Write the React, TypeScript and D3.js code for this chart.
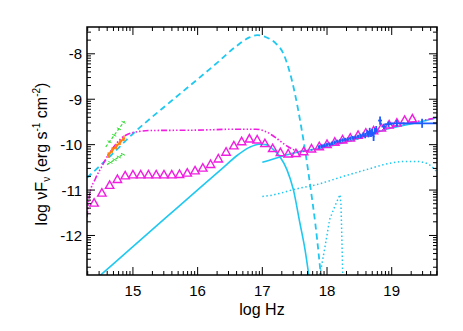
import React from "react";
import * as d3 from "d3";

const W = 463, H = 331;
const X_DOMAIN: [number, number] = [14.29, 19.7];
const Y_DOMAIN: [number, number] = [-12.87, -7.41];
const X_MAJOR = [15, 16, 17, 18, 19];
const Y_MAJOR = [-12, -11, -10, -9, -8];

// cyan dashed (synchrotron-like bump)
const dashX = [14.29, 14.65, 15.0, 15.5, 16.0, 16.3, 16.6, 16.8, 16.92, 17.05, 17.2, 17.32, 17.5, 17.6, 17.68, 17.75, 17.82, 17.92];
const dashY = [-10.73, -10.25, -9.76, -9.15, -8.56, -8.2, -7.83, -7.64, -7.59, -7.63, -7.76, -7.98, -8.85, -9.6, -10.3, -11.0, -11.75, -13.1];

// cyan solid, low-energy component
const sol1X = [14.45, 14.5, 15.0, 15.5, 16.0, 16.4, 16.6, 16.8, 16.95, 17.05, 17.15, 17.27, 17.38, 17.48, 17.58, 17.66, 17.74];
const sol1Y = [-12.93, -12.87, -12.245, -11.62, -10.995, -10.5, -10.25, -10.06, -9.99, -10.0, -10.08, -10.26, -10.55, -10.99, -11.72, -12.31, -13.1];

// cyan solid, X-ray component
const sol2X = [17.0, 17.27, 17.5, 18.0, 18.5, 19.0, 19.5, 19.7];
const sol2Y = [-10.39, -10.27, -10.18, -10.05, -9.86, -9.63, -9.48, -9.4];

// cyan dotted, broad component
const dot1X = [17.0, 17.12, 17.3, 17.48, 17.84, 18.25, 18.61, 18.97, 19.2, 19.38, 19.54, 19.7];
const dot1Y = [-11.14, -11.12, -11.06, -10.99, -10.88, -10.7, -10.55, -10.41, -10.37, -10.37, -10.41, -10.6];

// cyan dotted, narrow spike
const dot2X = [17.88, 17.97, 18.04, 18.12, 18.2, 18.215, 18.225, 18.235, 18.245];
const dot2Y = [-12.95, -12.24, -11.65, -11.36, -11.1, -11.3, -11.8, -12.4, -13.0];

// magenta dash-dot total model
const magX = [14.29, 14.33, 14.42, 14.52, 14.62, 14.72, 14.82, 14.92, 15.05, 15.25, 16.0, 16.6, 16.9, 17.05, 17.2, 17.35, 17.5, 17.6, 17.75, 18.0, 18.5, 19.0, 19.5, 19.7];
const magY = [-11.6, -11.1, -10.75, -10.48, -10.22, -10.02, -9.86, -9.77, -9.72, -9.69, -9.68, -9.66, -9.66, -9.71, -9.84, -10.0, -10.12, -10.15, -10.12, -10.03, -9.86, -9.61, -9.46, -9.41];

// magenta triangles
const triX = [14.40, 14.52, 14.64, 14.76, 14.88, 15.00, 15.12, 15.24, 15.36, 15.48, 15.60, 15.72, 15.84, 15.96, 16.08, 16.20, 16.32, 16.44, 16.56, 16.68, 16.80, 16.92, 17.04, 17.16, 17.28, 17.40, 17.52, 17.64, 17.76, 17.88, 18.00, 18.12, 18.24, 18.36, 18.48, 18.60, 18.72, 18.84, 18.96, 19.08, 19.20, 19.32];
const triY = [-11.28, -11.06, -10.89, -10.76, -10.68, -10.66, -10.66, -10.66, -10.66, -10.66, -10.66, -10.65, -10.62, -10.57, -10.51, -10.43, -10.31, -10.16, -10.02, -9.93, -9.87, -9.89, -9.97, -10.08, -10.17, -10.20, -10.19, -10.15, -10.09, -10.04, -9.99, -9.94, -9.89, -9.85, -9.79, -9.74, -9.69, -9.63, -9.56, -9.52, -9.46, -9.43];

// blue X-ray data: x, y, xerr, yerr
const xrX = [17.88, 17.92, 17.96, 18.0, 18.04, 18.08, 18.12, 18.16, 18.2, 18.24, 18.28, 18.32, 18.36, 18.4, 18.44, 18.48, 18.52, 18.56, 18.59, 18.62, 18.64, 18.66, 18.68, 18.7, 18.72, 18.74, 18.76, 18.82, 18.88, 18.95, 19.08, 19.47];
const xrY = [-10.05, -10.03, -10.02, -10.0, -9.99, -9.97, -9.95, -9.93, -9.92, -9.9, -9.89, -9.88, -9.86, -9.85, -9.84, -9.82, -9.81, -9.78, -9.8, -9.74, -9.77, -9.7, -9.76, -9.73, -9.82, -9.7, -9.66, -9.47, -9.6, -9.55, -9.53, -9.53];
const xrXe = [0.02, 0.02, 0.02, 0.02, 0.02, 0.02, 0.02, 0.02, 0.02, 0.02, 0.02, 0.02, 0.02, 0.02, 0.02, 0.02, 0.02, 0.02, 0.015, 0.015, 0.015, 0.015, 0.015, 0.015, 0.015, 0.015, 0.02, 0.03, 0.04, 0.06, 0.12, 0.3];
const xrYe = [0.04, 0.04, 0.04, 0.04, 0.04, 0.04, 0.04, 0.04, 0.04, 0.04, 0.04, 0.04, 0.04, 0.04, 0.04, 0.04, 0.05, 0.05, 0.06, 0.06, 0.07, 0.07, 0.07, 0.08, 0.1, 0.07, 0.07, 0.09, 0.06, 0.06, 0.07, 0.1];

// orange optical data
const optX = [14.62, 14.68, 14.74, 14.8, 14.86];
const optY = [-10.23, -10.12, -10.04, -9.95, -9.86];

// green bow-tie
const bowUpX = [14.58, 14.87];
const bowUpY = [-10.05, -9.48];
const bowLoX = [14.6, 14.86];
const bowLoY = [-10.44, -10.2];

const CYAN = "#1fc8f0";
const MAG = "#f01ee0";
const BLUE = "#1f5cff";
const ORANGE = "#ff7f10";
const GREEN = "#33dd33";

export default function App() {
  const L = 87, R = 437, T = 27, B = 275;
  const x = d3.scaleLinear().domain(X_DOMAIN).range([L, R]);
  const y = d3.scaleLinear().domain(Y_DOMAIN).range([B, T]);

  const mk = (xs: number[], ys: number[], curve = d3.curveMonotoneX) =>
    d3.line<number>().x((_, i) => x(xs[i])).y((_, i) => y(ys[i])).curve(curve)(xs.map((_, i) => i)) || "";

  const minorX: number[] = [];
  for (let n = 14; n <= 19; n++) for (let k = 2; k <= 9; k++) { const v = n + Math.log10(k); if (v > X_DOMAIN[0] && v < X_DOMAIN[1]) minorX.push(v); }
  const minorY: number[] = [];
  for (let n = -13; n <= -8; n++) for (let k = 2; k <= 9; k++) { const v = n + Math.log10(k); if (v > Y_DOMAIN[0] && v < Y_DOMAIN[1]) minorY.push(v); }

  const font = "'Liberation Sans', Arial, Helvetica, sans-serif";
  const tri = (cx: number, cy: number) => `M${cx - 4.2},${cy + 3.3}L${cx + 4.2},${cy + 3.3}L${cx},${cy - 4.2}Z`;

  return (
    <svg width={W} height={H} style={{ position: "absolute", left: 0, top: 0, background: "#fff" }} fontFamily={font}>
      <defs>
        <clipPath id="plot"><rect x={L} y={T} width={R - L} height={B - T} /></clipPath>
      </defs>
      <g clipPath="url(#plot)" fill="none">
        <path d={mk(dashX, dashY)} stroke={CYAN} strokeWidth={1.8} strokeDasharray="6,4" />
        <path d={mk(sol1X, sol1Y)} stroke={CYAN} strokeWidth={1.6} />
        <path d={mk(sol2X, sol2Y)} stroke={CYAN} strokeWidth={1.6} />
        <path d={mk(dot1X, dot1Y)} stroke={CYAN} strokeWidth={1.5} strokeDasharray="1.5,2.5" />
        <path d={mk(dot2X, dot2Y, d3.curveLinear)} stroke={CYAN} strokeWidth={1.5} strokeDasharray="1.5,2.5" />
        <path d={mk(magX, magY)} stroke={MAG} strokeWidth={1.6} strokeDasharray="6,2,1.5,2,1.5,2,1.5,2" />
        {/* green bowtie */}
        <path d={mk(bowUpX, bowUpY, d3.curveLinear)} stroke={GREEN} strokeWidth={1.2} strokeDasharray="3,2" />
        <path d={mk(bowLoX, bowLoY, d3.curveLinear)} stroke={GREEN} strokeWidth={1.2} strokeDasharray="3,2" />
        {[0.2, 0.45, 0.7, 0.95].map((f, i) => {
          const ux = x(bowUpX[0]) + f * (x(bowUpX[1]) - x(bowUpX[0]));
          const uy = y(bowUpY[0]) + f * (y(bowUpY[1]) - y(bowUpY[0]));
          const lx = x(bowLoX[0]) + f * (x(bowLoX[1]) - x(bowLoX[0]));
          const ly = y(bowLoY[0]) + f * (y(bowLoY[1]) - y(bowLoY[0]));
          return (
            <g key={"bt" + i} stroke={GREEN} strokeWidth={1}>
              <line x1={ux - 2} y1={uy - 1} x2={ux + 2} y2={uy + 1} />
              <line x1={lx - 2} y1={ly - 1} x2={lx + 2} y2={ly + 1} />
            </g>
          );
        })}
        {/* orange optical */}
        <path d={mk(optX, optY, d3.curveLinear)} stroke={ORANGE} strokeWidth={2} />
        {optX.map((v, i) => (
          <g key={"o" + i} stroke={ORANGE} strokeWidth={1.6}>
            <line x1={x(v)} y1={y(optY[i] - 0.06)} x2={x(v)} y2={y(optY[i] + 0.06)} />
            <line x1={x(v - 0.02)} y1={y(optY[i])} x2={x(v + 0.02)} y2={y(optY[i])} />
          </g>
        ))}
        {/* triangles */}
        {triX.map((v, i) => (
          <path key={"t" + i} d={tri(x(v), y(triY[i]))} stroke={MAG} strokeWidth={1.4} fill="none" />
        ))}
        {/* X-ray data */}
        {xrX.map((v, i) => (
          <g key={"x" + i} stroke={BLUE} strokeWidth={1.8}>
            <line x1={x(v - xrXe[i])} y1={y(xrY[i])} x2={x(v + xrXe[i])} y2={y(xrY[i])} />
            <line x1={x(v)} y1={y(xrY[i] - xrYe[i])} x2={x(v)} y2={y(xrY[i] + xrYe[i])} />
          </g>
        ))}
      </g>
      {/* frame */}
      <rect x={L} y={T} width={R - L} height={B - T} fill="none" stroke="#000" strokeWidth={1.5} />
      <g stroke="#000" strokeWidth={1}>
        {X_MAJOR.map(v => (
          <g key={"xm" + v}>
            <line x1={x(v)} x2={x(v)} y1={B} y2={B - 8} />
            <line x1={x(v)} x2={x(v)} y1={T} y2={T + 8} />
          </g>
        ))}
        {minorX.map((v, i) => (
          <g key={"xn" + i}>
            <line x1={x(v)} x2={x(v)} y1={B} y2={B - 4} />
            <line x1={x(v)} x2={x(v)} y1={T} y2={T + 4} />
          </g>
        ))}
        {Y_MAJOR.map(v => (
          <g key={"ym" + v}>
            <line x1={L} x2={L + 8} y1={y(v)} y2={y(v)} />
            <line x1={R} x2={R - 8} y1={y(v)} y2={y(v)} />
          </g>
        ))}
        {minorY.map((v, i) => (
          <g key={"yn" + i}>
            <line x1={L} x2={L + 4} y1={y(v)} y2={y(v)} />
            <line x1={R} x2={R - 4} y1={y(v)} y2={y(v)} />
          </g>
        ))}
      </g>
      <g fontSize={15} fill="#000">
        {X_MAJOR.map(v => (
          <text key={"xl" + v} x={x(v)} y={296} textAnchor="middle">{v}</text>
        ))}
        {Y_MAJOR.map(v => (
          <text key={"yl" + v} x={82} y={y(v) + 5.5} textAnchor="end">{String(v)}</text>
        ))}
      </g>
      <text x={(L + R) / 2} y={315} textAnchor="middle" fontSize={16}>log Hz</text>
      <text transform="rotate(-90)" x={-154} y={46.5} textAnchor="middle" fontSize={16}>
        log νF<tspan fontSize={10} dy={3}>ν</tspan>
        <tspan dy={-3}> (erg s</tspan>
        <tspan fontSize={10} dy={-7}>-1</tspan>
        <tspan dy={7}> cm</tspan>
        <tspan fontSize={10} dy={-7}>-2</tspan>
        <tspan dy={7}>)</tspan>
      </text>
    </svg>
  );
}
